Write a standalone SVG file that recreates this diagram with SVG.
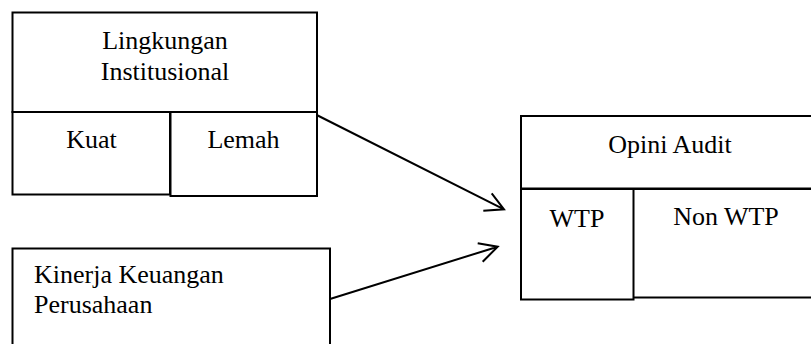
<svg xmlns="http://www.w3.org/2000/svg" width="811" height="344" viewBox="0 0 811 344">
<style>
.b{fill:#fff;stroke:#000;stroke-width:2}
.t{font-family:"Liberation Serif","Times New Roman",serif;font-size:26px;fill:#000}
.c{text-anchor:middle}
.l{fill:none;stroke:#000;stroke-width:2}
</style>
<rect width="811" height="344" fill="#fff"/>
<g id="lingkungan">
<rect class="b" x="12.5" y="12.5" width="304.5" height="99.5"/>
<text class="t c" x="165" y="49">Lingkungan</text>
<text class="t c" x="165" y="80">Institusional</text>
</g>
<g id="kuat">
<rect class="b" x="12.5" y="112" width="157.5" height="82.5"/>
<text class="t c" x="91.5" y="148">Kuat</text>
</g>
<g id="lemah">
<rect class="b" x="170.5" y="112" width="146.5" height="84"/>
<text class="t c" x="243.5" y="148">Lemah</text>
</g>
<g id="kinerja">
<rect class="b" x="12.5" y="248.5" width="317.5" height="110"/>
<text class="t" x="34" y="283">Kinerja Keuangan</text>
<text class="t" x="34" y="313">Perusahaan</text>
</g>
<g id="opini">
<rect class="b" x="521" y="116" width="300" height="72.5"/>
<text class="t c" x="670" y="153">Opini Audit</text>
</g>
<g id="nonwtp">
<rect class="b" x="633" y="189" width="190" height="108.5"/>
<text class="t c" x="726" y="225">Non WTP</text>
</g>
<g id="wtp">
<rect class="b" x="521" y="189" width="112.5" height="110.5"/>
<text class="t c" x="577" y="227">WTP</text>
</g>
<g id="connectors">
<path class="l" d="M316.7 115 L504 209.3 M491.7 193.3 L504 209.3 L483.3 210.7"/>
<path class="l" d="M330 299 L497.7 246.7 M477.7 243.3 L497.7 246.7 L482.7 261.7"/>
</g>
</svg>
